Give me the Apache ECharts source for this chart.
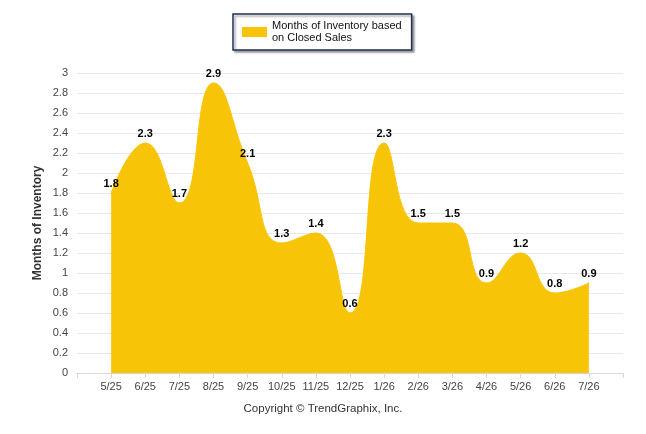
<!DOCTYPE html>
<html>
<head>
<meta charset="utf-8">
<script src="https://cdn.jsdelivr.net/npm/echarts@6/dist/echarts.min.js"></script>
<style>
  html, body { margin: 0; padding: 0; background: #fff; }
  #chart { width: 646px; height: 434px; }
</style>
</head>
<body>
<div id="chart"></div>
<script>
// months on the x axis
const months = ['5/25', '6/25', '7/25', '8/25', '9/25', '10/25', '11/25', '12/25',
    '1/26', '2/26', '3/26', '4/26', '5/26', '6/26', '7/26'];
// months of inventory, closed sales
const inventory = [1.8, 2.3, 1.7, 2.9, 2.1, 1.3, 1.4, 0.6, 2.3, 1.5, 1.5, 0.9, 1.2, 0.8, 0.9];
const seriesName = 'Months of Inventory based\non Closed Sales';

// one empty slot on each side, like the original axis padding
const axisCats = [''].concat(months, ['']);
const axisData = ['-'].concat(inventory, ['-']);

let myChart = echarts.init(document.getElementById('chart'));
let font = "'Liberation Sans', Arial, sans-serif";
let option = {
    animation: false,
    textStyle: { fontFamily: font },
    legend: {
        data: [seriesName],
        top: 14,
        left: 233,
        width: 180,
        padding: [6, 10, 6, 9],
        borderColor: '#1f2f57',
        borderWidth: 1.5,
        backgroundColor: '#fff',
        shadowColor: 'rgba(0,0,0,0.35)',
        shadowBlur: 2,
        shadowOffsetX: 2,
        shadowOffsetY: 2,
        icon: 'rect',
        itemWidth: 25,
        itemHeight: 10,
        itemGap: 4,
        textStyle: { fontSize: 11, color: '#111', lineHeight: 12, fontFamily: font }
    },
    grid: { left: 77, right: 23, top: 73, bottom: 61 },
    xAxis: {
        type: 'category',
        boundaryGap: false,
        data: axisCats,
        axisLine: { lineStyle: { color: '#d8d8d8' } },
        axisTick: { length: 5, lineStyle: { color: '#d8d8d8' } },
        axisLabel: { interval: 0, color: '#444', fontSize: 11, margin: 8 }
    },
    yAxis: {
        type: 'value',
        min: 0,
        max: 3,
        interval: 0.2,
        name: 'Months of Inventory',
        nameLocation: 'middle',
        nameGap: 33,
        nameMoveOverlap: false,
        nameTextStyle: { fontSize: 12, fontWeight: 'bold', color: '#333' },
        axisLine: { show: false },
        axisTick: { show: false },
        axisLabel: {
            color: '#444',
            fontSize: 11,
            margin: 9,
            formatter: v => String(Math.round(v * 10) / 10)
        },
        splitLine: { lineStyle: { color: '#e8e8e8' } }
    },
    graphic: [{
        type: 'text',
        left: 'center',
        top: 403,
        style: {
            text: 'Copyright \u00a9 TrendGraphix, Inc.',
            fontSize: 11.5,
            fill: '#333',
            fontFamily: font
        }
    }],
    series: [{
        name: seriesName,
        type: 'line',
        data: axisData,
        smooth: 0.5,
        symbol: 'circle',
        symbolSize: 1,
        showSymbol: true,
        itemStyle: { color: '#f8c407' },
        lineStyle: { color: '#f8c407', width: 1 },
        areaStyle: { color: '#f8c407', opacity: 1 },
        label: {
            show: true,
            position: 'top',
            distance: 3,
            fontSize: 11,
            fontWeight: 'bold',
            color: '#000'
        }
    }]
};
myChart.setOption(option);
</script>
</body>
</html>
